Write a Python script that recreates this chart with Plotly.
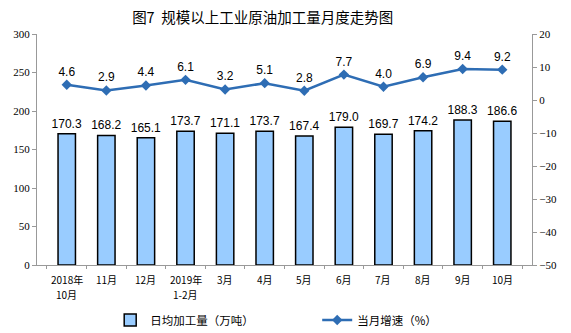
import plotly.graph_objects as go

categories = ["2018年10月", "11月", "12月", "2019年1-2月", "3月", "4月", "5月", "6月", "7月", "8月", "9月", "10月"]
label_line1 = ["2018年", "11月", "12月", "2019年", "3月", "4月", "5月", "6月", "7月", "8月", "9月", "10月"]
label_line2 = ["10月", "", "", "1-2月", "", "", "", "", "", "", "", ""]
daily_output = [170.3, 168.2, 165.1, 173.7, 171.1, 173.7, 167.4, 179.0, 169.7, 174.2, 188.3, 186.6]
growth = [4.6, 2.9, 4.4, 6.1, 3.2, 5.1, 2.8, 7.7, 4.0, 6.9, 9.4, 9.2]
left_ticks = [0, 50, 100, 150, 200, 250, 300]
right_ticks = [-50, -40, -30, -20, -10, 0, 10, 20]

sans = "Liberation Sans, Arial, sans-serif"
serif = "Liberation Serif, Times New Roman, serif"
cjk = "Noto Sans CJK SC, sans-serif"

fig = go.Figure()
fig.add_trace(go.Bar(
    x=categories, y=daily_output, name="日均加工量（万吨）",
    marker=dict(color="#99CCFF", line=dict(color="#000000", width=1.5)),
    text=[f"{v:.1f}" for v in daily_output], textposition="outside",
    textangle=0, constraintext="none",
    textfont=dict(family=sans, size=12, color="#000000"),
    cliponaxis=False, yaxis="y",
))
fig.add_trace(go.Scatter(
    x=categories, y=growth, name="当月增速（%）", mode="lines+markers+text",
    line=dict(color="#2E6DB4", width=2.5),
    marker=dict(symbol="diamond", size=8, color="#2E6DB4"),
    text=[f"{v:.1f}" for v in growth], textposition="top center",
    textfont=dict(family=sans, size=12, color="#000000"),
    cliponaxis=False, yaxis="y2",
))

annotations = []
for c, l1, l2 in zip(categories, label_line1, label_line2):
    annotations.append(dict(x=c, xref="x", y=0, yref="paper", text=l1, showarrow=False,
                            yanchor="middle", yshift=-14,
                            font=dict(family=cjk, size=10, color="#000000")))
    if l2:
        annotations.append(dict(x=c, xref="x", y=0, yref="paper", text=l2, showarrow=False,
                                yanchor="middle", yshift=-29,
                                font=dict(family=cjk, size=10, color="#000000")))

fig.update_layout(
    width=571, height=333,
    margin=dict(l=37, r=39, t=34, b=68),
    paper_bgcolor="white", plot_bgcolor="white",
    title=dict(text="图7  规模以上工业原油加工量月度走势图", x=0.46, xanchor="center",
               y=0.945, yanchor="middle",
               font=dict(family=cjk, size=14.5, color="#000000")),
    bargap=0.56,
    uniformtext=dict(mode=False),
    showlegend=True,
    legend=dict(orientation="h", xref="container", yref="container",
                x=0.193, xanchor="left", y=0.039, yanchor="middle",
                font=dict(family=cjk, size=11.5, color="#000000"),
                itemwidth=30, traceorder="normal", entrywidth=162),
    annotations=annotations,
    xaxis=dict(
        type="category", showline=True, linecolor="#999999", linewidth=1,
        ticks="outside", tickcolor="#999999", ticklen=3, tickson="boundaries",
        showticklabels=False, automargin=False,
        showgrid=False, zeroline=False,
    ),
    yaxis=dict(
        range=[0, 300], tickvals=left_ticks, showline=True, linecolor="#999999",
        ticks="outside", tickcolor="#999999", ticklen=4, automargin=False,
        tickfont=dict(family=serif, size=11, color="#000000"),
        showgrid=False, zeroline=False,
    ),
    yaxis2=dict(
        range=[-50, 20], tickvals=right_ticks, overlaying="y", side="right",
        showline=True, linecolor="#999999", ticks="outside", tickcolor="#999999", ticklen=4,
        automargin=False,
        tickfont=dict(family=serif, size=11, color="#000000"),
        showgrid=False, zeroline=False,
    ),
)

fig.write_html("out.html")
